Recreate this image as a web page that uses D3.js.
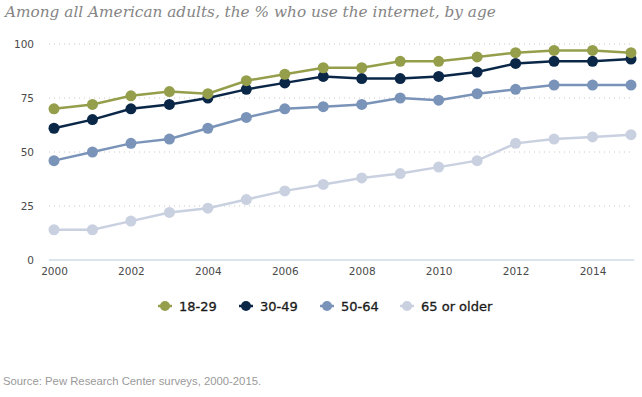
<!DOCTYPE html>
<html>
<head>
<meta charset="utf-8">
<script src="https://cdn.jsdelivr.net/npm/d3@7"></script>
<style>
  body { margin: 0; background: #fff; }
  svg { display: block; }
</style>
</head>
<body>
<div id="chart"></div>
<script>
// data
const years = d3.range(2000, 2016);
const ages = ["18-29", "30-49", "50-64", "65 or older"];
const age1829 = [70, 72, 76, 78, 77, 83, 86, 89, 89, 92, 92, 94, 96, 97, 97, 96];
const age3049 = [61, 65, 70, 72, 75, 79, 82, 85, 84, 84, 85, 87, 91, 92, 92, 93];
const age5064 = [46, 50, 54, 56, 61, 66, 70, 71, 72, 75, 74, 77, 79, 81, 81, 81];
const age65 = [14, 14, 18, 22, 24, 28, 32, 35, 38, 40, 43, 46, 54, 56, 57, 58];
const yTicks = [0, 25, 50, 75, 100];
const xTicks = [2000, 2002, 2004, 2006, 2008, 2010, 2012, 2014];
const colors = ["#959e4a", "#0b2748", "#7a93b8", "#c9d0e0"];

const series = [age1829, age3049, age5064, age65].map((vals, i) => ({
  name: ages[i],
  color: colors[i],
  values: vals.map((v, j) => ({year: years[j], value: v}))
}));

const W = 642, H = 397;
const svg = d3.select("#chart").append("svg")
  .attr("width", W).attr("height", H);

// scales
const x = d3.scaleLinear().domain([2000, 2015]).range([54, 631]);
const y = d3.scaleLinear().domain([0, 100]).range([260, 44]);

// title
svg.append("text")
  .attr("x", 5).attr("y", 17)
  .attr("font-family", "DejaVu Serif, serif")
  .attr("font-style", "italic")
  .attr("font-size", 15.3)
  .attr("fill", "#858585")
  .text("Among all American adults, the % who use the internet, by age");

// gridlines (dotted)
svg.append("g")
  .selectAll("line")
  .data(yTicks.filter(d => d > 0))
  .join("line")
  .attr("x1", 49).attr("x2", 634)
  .attr("y1", d => y(d)).attr("y2", d => y(d))
  .attr("stroke", "#c8c8c8")
  .attr("stroke-width", 1)
  .attr("stroke-dasharray", "1,4");

// y axis labels
const yAxis = svg.append("g")
  .attr("transform", "translate(34,0)")
  .call(d3.axisLeft(y).tickValues(yTicks).tickSize(0).tickPadding(0));
yAxis.select(".domain").remove();
yAxis.selectAll("text")
  .attr("font-family", "DejaVu Sans, sans-serif")
  .attr("font-size", 10.5)
  .attr("fill", "#4a4a4a");

// x axis
const xAxis = svg.append("g")
  .attr("transform", "translate(0,260)")
  .call(d3.axisBottom(x).tickValues(xTicks).tickFormat(d3.format("d")).tickSize(0).tickPadding(8));
xAxis.select(".domain").remove();
xAxis.selectAll("text")
  .attr("font-family", "DejaVu Sans, sans-serif")
  .attr("font-size", 10.5)
  .attr("fill", "#4a4a4a");
svg.append("line")
  .attr("x1", 49).attr("x2", 634)
  .attr("y1", y(0)).attr("y2", y(0))
  .attr("stroke", "#b9c9dc").attr("stroke-width", 1);

// lines and markers, drawn oldest group first so younger sit on top
const line = d3.line().x(d => x(d.year)).y(d => y(d.value));
const groups = svg.append("g")
  .selectAll("g")
  .data(series.slice().reverse())
  .join("g");

groups.append("path")
  .attr("d", d => line(d.values))
  .attr("fill", "none")
  .attr("stroke", d => d.color)
  .attr("stroke-width", 2.5);

groups.selectAll("circle")
  .data(d => d.values.map(v => ({...v, color: d.color})))
  .join("circle")
  .attr("cx", d => x(d.year))
  .attr("cy", d => y(d.value))
  .attr("r", 5.5)
  .attr("fill", d => d.color);

// legend
const legendX = [165, 246, 327, 407];
const legend = svg.append("g")
  .selectAll("g")
  .data(series)
  .join("g")
  .attr("transform", (d, i) => `translate(${legendX[i]},306)`);
legend.append("line")
  .attr("x1", -7).attr("x2", 7)
  .attr("stroke", d => d.color).attr("stroke-width", 2.5);
legend.append("circle")
  .attr("r", 5)
  .attr("fill", d => d.color);
legend.append("text")
  .attr("x", 14).attr("dy", "0.35em")
  .attr("font-family", "DejaVu Sans, sans-serif")
  .attr("font-size", 13)
  .attr("fill", "#1a1a1a")
  .attr("stroke", "#1a1a1a")
  .attr("stroke-width", 0.3)
  .text(d => d.name);

// source
svg.append("text")
  .attr("x", 3).attr("y", 385)
  .attr("font-family", "Liberation Sans, Arial, sans-serif")
  .attr("font-size", 11.3)
  .attr("fill", "#9a9a9a")
  .text("Source: Pew Research Center surveys, 2000-2015.");
</script>
</body>
</html>
